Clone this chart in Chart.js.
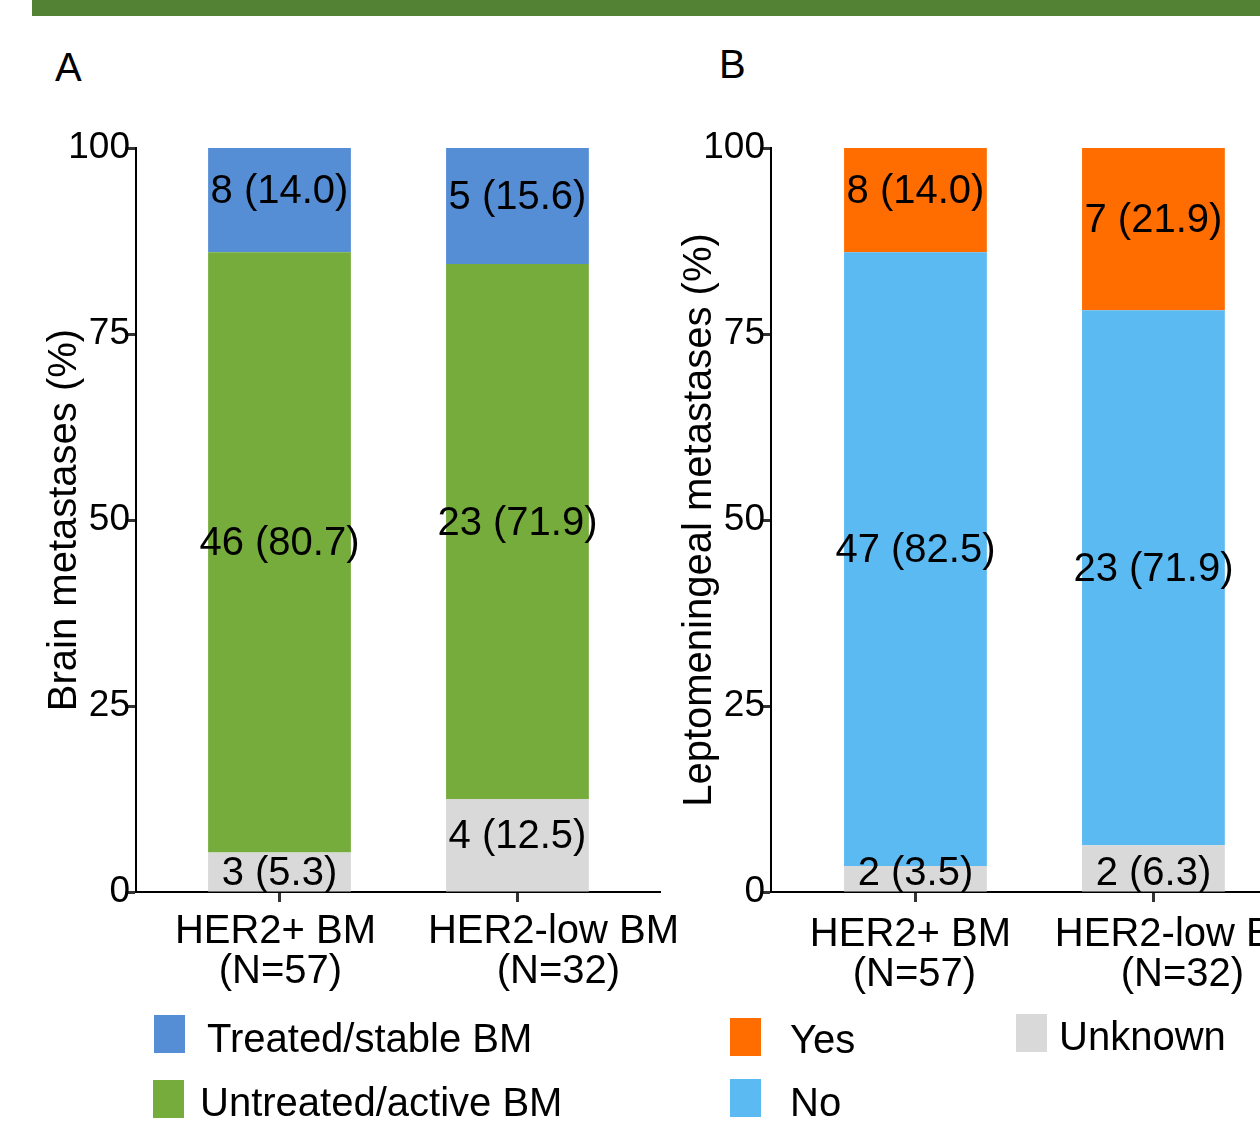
<!DOCTYPE html>
<html>
<head>
<meta charset="utf-8">
<title>HER2 BM and LM</title>
<script src="https://cdn.jsdelivr.net/npm/chart.js@4.4.1/dist/chart.umd.min.js"></script>
<style>
    html, body { margin: 0; padding: 0; background: #fff; overflow: hidden; }
    body { width: 1260px; height: 1137px; position: relative; font-family: Arial, "Liberation Sans", sans-serif; color: #000; }
    .band { position: absolute; left: 32px; top: 0; width: 1228px; height: 16px; background: #548235; }
    .letter { position: absolute; font-size: 40px; line-height: 40px; }
    canvas { position: absolute; top: 0; }
    .swatch { position: absolute; width: 31px; height: 38px; }
    .legend-text { position: absolute; font-size: 40px; line-height: 40px; white-space: nowrap; }
</style>
</head>
<body>
<div class="band"></div>
<div class="letter" style="left:55px;top:47px">A</div>
<div class="letter" style="left:719px;top:44px">B</div>
<canvas id="chartA" width="700" height="1137" style="left:0"></canvas>
<canvas id="chartB" width="720" height="1137" style="left:660px"></canvas>
<div id="legend"></div>

<script>
const CATEGORIES = [['HER2+ BM', '(N=57)'], ['HER2-low BM', '(N=32)']];
const Y_TICKS = [0, 25, 50, 75, 100];

// Panel A: brain metastases, n and (%)
const A_UNKNOWN_N = [3, 4];
const A_UNKNOWN_PCT = [5.3, 12.5];
const A_UNTREATED_N = [46, 23];
const A_UNTREATED_PCT = [80.7, 71.9];
const A_TREATED_N = [8, 5];
const A_TREATED_PCT = [14.0, 15.6];

// Panel B: leptomeningeal metastases, n and (%)
const B_UNKNOWN_N = [2, 2];
const B_UNKNOWN_PCT = [3.5, 6.3];
const B_NO_N = [47, 23];
const B_NO_PCT = [82.5, 71.9];
const B_YES_N = [8, 7];
const B_YES_PCT = [14.0, 21.9];

const COLORS = {
    unknown: '#D9D9D9',
    untreated: '#76AC3B',
    treated: '#558ED5',
    no: '#5BBAF2',
    yes: '#FF6D00',
};

const SERIES_A = [
    { label: 'Unknown', n: A_UNKNOWN_N, pct: A_UNKNOWN_PCT, color: COLORS.unknown },
    { label: 'Untreated/active BM', n: A_UNTREATED_N, pct: A_UNTREATED_PCT, color: COLORS.untreated },
    { label: 'Treated/stable BM', n: A_TREATED_N, pct: A_TREATED_PCT, color: COLORS.treated },
];
const SERIES_B = [
    { label: 'Unknown', n: B_UNKNOWN_N, pct: B_UNKNOWN_PCT, color: COLORS.unknown },
    { label: 'No', n: B_NO_N, pct: B_NO_PCT, color: COLORS.no },
    { label: 'Yes', n: B_YES_N, pct: B_YES_PCT, color: COLORS.yes },
];

const FONT = 'Arial, "Liberation Sans", sans-serif';

// "n (pct)" text inside each stacked segment
const segmentLabels = {
    id: 'segmentLabels',
    afterDatasetsDraw(chart) {
        const ctx = chart.ctx;
        ctx.save();
        ctx.font = `40px ${FONT}`;
        ctx.fillStyle = '#000';
        ctx.textAlign = 'center';
        ctx.textBaseline = 'middle';
        chart.data.datasets.forEach((ds, di) => {
            chart.getDatasetMeta(di).data.forEach((bar, i) => {
                const h = bar.base - bar.y;
                const y = h < 60 ? bar.base - 18 : (bar.y + bar.base) / 2 - 8;
                ctx.fillText(`${ds.counts[i]} (${ds.data[i].y.toFixed(1)})`, bar.x, y);
            });
        });
        ctx.restore();
    },
};

// two-line category labels under the x ticks, nudged like the original figure
const categoryLabels = {
    id: 'categoryLabels',
    afterDraw(chart, args, opts) {
        const ctx = chart.ctx;
        const xs = chart.scales.x;
        ctx.save();
        ctx.font = `40px ${FONT}`;
        ctx.fillStyle = '#000';
        ctx.textAlign = 'center';
        ctx.textBaseline = 'middle';
        CATEGORIES.forEach((lines, i) => {
            const px = xs.getPixelForValue(i);
            lines.forEach((txt, k) => {
                ctx.fillText(txt, px + opts.nudge[i][k], xs.top + opts.top + k * 40);
            });
        });
        ctx.restore();
    },
};

function renderPanel(id, series, o) {
    const el = document.getElementById(id);
    new Chart(el.getContext('2d'), {
        type: 'bar',
        data: {
            datasets: series.map((s) => ({
                label: s.label,
                data: s.pct.map((v, i) => ({ x: i, y: v })),
                counts: s.n,
                backgroundColor: s.color,
                borderWidth: 0,
                barPercentage: 0.6,
                categoryPercentage: 1,
            })),
        },
        options: {
            responsive: false,
            animation: false,
            events: [],
            layout: { padding: { top: 148, right: o.padRight, bottom: 125, left: 0 } },
            plugins: {
                legend: { display: false },
                tooltip: { enabled: false },
                categoryLabels: { nudge: o.nudge, top: o.labelTop },
            },
            scales: {
                x: {
                    type: 'linear',
                    stacked: true,
                    offset: false,
                    min: o.xMin,
                    max: o.xMax,
                    border: { color: '#000', width: 2 },
                    grid: { offset: false, drawOnChartArea: false, tickLength: 10, tickWidth: 3, tickColor: '#333' },
                    ticks: { display: false },
                    afterBuildTicks: (s) => { s.ticks = CATEGORIES.map((c, i) => ({ value: i })); },
                    afterFit: (s) => { s.height = 120; },
                },
                y: {
                    stacked: true,
                    min: 0,
                    max: 100,
                    border: { color: '#000', width: 2 },
                    grid: { drawOnChartArea: false, tickLength: 8, tickWidth: 3, tickColor: '#333' },
                    ticks: {
                        padding: -2,
                        color: '#000',
                        font: { size: 37, family: FONT },
                    },
                    afterBuildTicks: (s) => { s.ticks = Y_TICKS.map((v) => ({ value: v })); },
                    title: {
                        display: true,
                        text: o.title,
                        color: '#000',
                        font: { size: 40, family: FONT },
                        padding: { top: o.titlePad, bottom: 0 },
                    },
                    afterFit: (s) => { s.width = o.yWidth; },
                },
            },
        },
        plugins: [segmentLabels, categoryLabels],
    });
}

renderPanel('chartA', SERIES_A, {
    title: 'Brain metastases (%)', yWidth: 136, padRight: 40, xMin: -0.603, xMax: 1.599, titlePad: 41,
    labelTop: 40, nudge: [[-4, 1], [36, 41]],
});
renderPanel('chartB', SERIES_B, {
    title: 'Leptomeningeal metastases (%)', yWidth: 111, padRight: 20, xMin: -0.607, xMax: 1.868, titlePad: 16,
    labelTop: 43, nudge: [[-5, -1], [27, 29]],
});

// legend placement (page pixels) kept apart from data
const LEGEND = [
    { s: SERIES_A[2], box: [154, 1015], text: [207, 1018] },
    { s: SERIES_A[1], box: [153, 1080], text: [200, 1082] },
    { s: SERIES_B[2], box: [730, 1018], text: [790, 1019] },
    { s: SERIES_B[1], box: [730, 1079], text: [790, 1082] },
    { s: SERIES_B[0], box: [1016, 1014], text: [1059, 1016] },
];
const legendEl = document.getElementById('legend');
LEGEND.forEach((it) => {
    const sw = document.createElement('div');
    sw.className = 'swatch';
    sw.style.cssText = `left:${it.box[0]}px;top:${it.box[1]}px;background:${it.s.color}`;
    const tx = document.createElement('div');
    tx.className = 'legend-text';
    tx.style.cssText = `left:${it.text[0]}px;top:${it.text[1]}px`;
    tx.textContent = it.s.label;
    legendEl.appendChild(sw);
    legendEl.appendChild(tx);
});
</script>
</body>
</html>
